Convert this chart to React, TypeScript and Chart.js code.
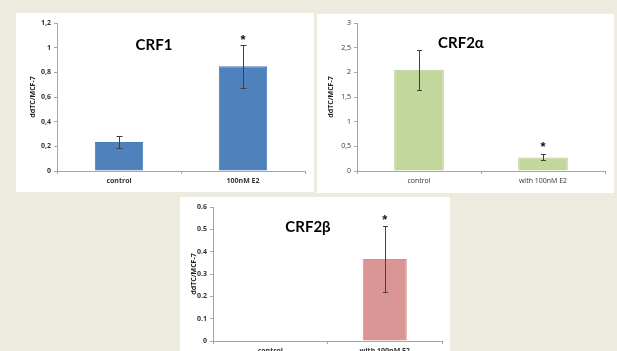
import React, { useEffect, useRef } from "react";
import { Chart, registerables } from "chart.js";

Chart.register(...registerables);

// ---- data ----
const crf1Categories = ["control", "100nM E2"];
const crf1Values = [0.235, 0.85];
const crf1Errors = [0.045, 0.175];
const crf1Stars = [false, true];

const crf2aCategories = ["control", "with 100nM E2"];
const crf2aValues = [2.05, 0.275];
const crf2aErrors = [0.41, 0.06];
const crf2aStars = [false, true];

const crf2bCategories = ["control", "with 100nM E2"];
const crf2bValues = [0, 0.367];
const crf2bErrors = [0, 0.147];
const crf2bStars = [false, true];

const yAxisTitle = "ddTC/MCF-7";

type PanelProps = {
  categories: string[];
  values: number[];
  errors: number[];
  stars: boolean[];
  title: string;
  yMax: number;
  yStep: number;
  sep: string;
  color: string;
  border: string;
  left: number;
  top: number;
  width: number;
  height: number;
  axisWidth: number;
  padTop: number;
  padRight: number;
  xAxisHeight: number;
  yTitlePad: number;
  titleDX: number;
  titleDY: number;
  barPct: number;
  cap: number;
  starGap: number;
  bold: boolean;
};

function Panel(p: PanelProps) {
  const ref = useRef<HTMLCanvasElement | null>(null);
  useEffect(() => {
    const canvas = ref.current;
    if (!canvas) return;
    const tickFont = { family: "'Open Sans', sans-serif", size: 7, weight: p.bold ? "bold" : "normal" } as any;
    const overlay = {
      id: "overlay",
      afterDatasetsDraw(chart: any) {
        const { ctx, chartArea } = chart;
        const y = chart.scales.y;
        const meta = chart.getDatasetMeta(0);
        ctx.save();
        p.values.forEach((v, i) => {
          const cx = meta.data[i].x;
          const err = p.errors[i];
          if (err > 0) {
            const yt = Math.round(y.getPixelForValue(v + err)) + 0.5;
            const yb = Math.round(y.getPixelForValue(v - err)) + 0.5;
            const x0 = Math.round(cx) + 0.5;
            ctx.strokeStyle = "#404040";
            ctx.lineWidth = 1;
            ctx.beginPath();
            ctx.moveTo(x0, yt);
            ctx.lineTo(x0, yb);
            ctx.moveTo(x0 - p.cap / 2, yt);
            ctx.lineTo(x0 + p.cap / 2, yt);
            ctx.moveTo(x0 - p.cap / 2, yb);
            ctx.lineTo(x0 + p.cap / 2, yb);
            ctx.stroke();
          }
          if (p.stars[i]) {
            const ys = y.getPixelForValue(v + err) - p.starGap;
            ctx.fillStyle = "#111";
            ctx.font = "bold 13px 'Liberation Sans', sans-serif";
            ctx.textAlign = "center";
            ctx.textBaseline = "middle";
            ctx.fillText("*", cx, ys + 3);
          }
        });
        ctx.fillStyle = "#000";
        ctx.font = "bold 15px Lato, sans-serif";
        ctx.textAlign = "center";
        ctx.textBaseline = "middle";
        ctx.fillText(p.title, chartArea.left + p.titleDX, chartArea.top + p.titleDY);
        ctx.restore();
      },
    };
    const chart = new Chart(canvas, {
      type: "bar",
      data: {
        labels: p.categories,
        datasets: [
          {
            data: p.values,
            backgroundColor: p.color,
            borderColor: p.border,
            borderWidth: 1,
            barPercentage: p.barPct,
            categoryPercentage: 1,
          },
        ],
      },
      options: {
        animation: false,
        responsive: false,
        maintainAspectRatio: false,
        layout: {
          autoPadding: false,
          padding: { top: p.padTop, right: p.padRight, left: 0, bottom: 0 },
        },
        plugins: {
          legend: { display: false },
          tooltip: { enabled: false },
          title: { display: false },
        },
        scales: {
          x: {
            type: "category",
            grid: {
              offset: true,
              drawOnChartArea: false,
              drawTicks: true,
              tickLength: 3,
              color: "#a6a6a6",
            },
            border: { display: true, color: "#a6a6a6" },
            ticks: { color: "#333", font: tickFont, padding: 3, maxRotation: 0 },
            afterFit: (s: any) => {
              s.height = p.xAxisHeight;
            },
          },
          y: {
            type: "linear",
            min: 0,
            max: p.yMax,
            grid: {
              drawOnChartArea: false,
              drawTicks: true,
              tickLength: 3,
              color: "#a6a6a6",
            },
            border: { display: true, color: "#a6a6a6" },
            ticks: {
              stepSize: p.yStep,
              color: "#333",
              font: tickFont,
              padding: 3,
              callback: (v: any) => String(Number(Number(v).toFixed(2))).replace(".", p.sep),
            },
            title: {
              display: true,
              text: yAxisTitle,
              color: "#222",
              font: { family: "'Open Sans', sans-serif", size: 7, weight: "bold" } as any,
              padding: { top: p.yTitlePad, bottom: 0 },
            },
            afterFit: (s: any) => {
              s.width = p.axisWidth;
            },
          },
        },
      },
      plugins: [overlay],
    });
    return () => chart.destroy();
  }, []);
  return (
    <div
      style={{
        position: "absolute",
        left: p.left,
        top: p.top,
        width: p.width,
        height: p.height,
        background: "#ffffff",
      }}
    >
      <canvas ref={ref} width={p.width} height={p.height} style={{ display: "block", width: p.width, height: p.height }} />
    </div>
  );
}

export default function App() {
  return (
    <div
      style={{
        position: "fixed",
        left: 0,
        top: 0,
        width: 617,
        height: 351,
        background: "#edeae0",
        overflow: "hidden",
      }}
    >
      <Panel
        categories={crf1Categories}
        values={crf1Values}
        errors={crf1Errors}
        stars={crf1Stars}
        title="CRF1"
        yMax={1.2}
        yStep={0.2}
        sep=","
        color="#4f81bd"
        border="#4a7ab5"
        left={16}
        top={13}
        width={298}
        height={179}
        axisWidth={41}
        padTop={10}
        padRight={9}
        xAxisHeight={21}
        yTitlePad={13}
        titleDX={97}
        titleDY={22}
        barPct={0.39}
        cap={6}
        starGap={7}
        bold={true}
      />
      <Panel
        categories={crf2aCategories}
        values={crf2aValues}
        errors={crf2aErrors}
        stars={crf2aStars}
        title="CRF2α"
        yMax={3}
        yStep={0.5}
        sep=","
        color="#c3d69b"
        border="#bccf94"
        left={317}
        top={14}
        width={297}
        height={179}
        axisWidth={40}
        padTop={9}
        padRight={9}
        xAxisHeight={22}
        yTitlePad={10}
        titleDX={104}
        titleDY={20}
        barPct={0.4}
        cap={5}
        starGap={10}
        bold={false}
      />
      <Panel
        categories={crf2bCategories}
        values={crf2bValues}
        errors={crf2bErrors}
        stars={crf2bStars}
        title="CRF2β"
        yMax={0.6}
        yStep={0.1}
        sep="."
        color="#d99694"
        border="#d28f8d"
        left={180}
        top={197}
        width={270}
        height={154}
        axisWidth={33}
        padTop={10}
        padRight={8}
        xAxisHeight={10}
        yTitlePad={10}
        titleDX={95}
        titleDY={20}
        barPct={0.385}
        cap={5}
        starGap={9}
        bold={true}
      />
    </div>
  );
}
